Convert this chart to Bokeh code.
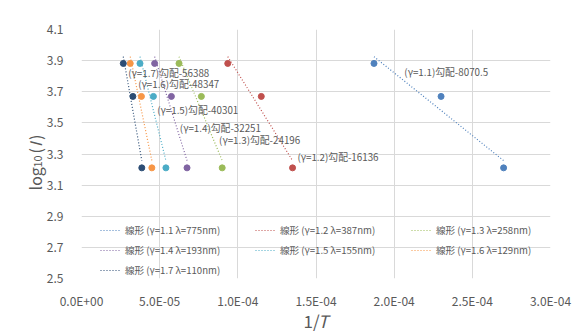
import numpy as np
from bokeh.plotting import figure
from bokeh.models import (Range1d, FixedTicker, CustomJSTickFormatter, Label,
                          Legend, LegendItem, BoxAnnotation)
from bokeh.embed import file_html
from bokeh.resources import INLINE

# ---------------- data ----------------
gammas = ["1.1", "1.2", "1.3", "1.4", "1.5", "1.6", "1.7"]
wavelengths = ["775", "387", "258", "193", "155", "129", "110"]
slope_labels = ["-8070.5", "-16136", "-24196", "-32251", "-40301", "-48347", "-56388"]
log_I = [3.882, 3.670, 3.211]
inv_T_11 = [1.871e-4, 2.300e-4, 2.700e-4]
inv_T_12 = [0.9355e-4, 1.150e-4, 1.350e-4]
inv_T_13 = [0.6237e-4, 0.7667e-4, 0.9000e-4]
inv_T_14 = [0.4678e-4, 0.5750e-4, 0.6750e-4]
inv_T_15 = [0.3742e-4, 0.4600e-4, 0.5400e-4]
inv_T_16 = [0.3118e-4, 0.3833e-4, 0.4500e-4]
inv_T_17 = [0.2673e-4, 0.3286e-4, 0.3857e-4]
x_ticks = [0.0, 5e-5, 1e-4, 1.5e-4, 2e-4, 2.5e-4, 3e-4]
y_ticks = [2.5, 2.7, 2.9, 3.1, 3.3, 3.5, 3.7, 3.9, 4.1]

# label anchor positions (data coords, left-middle)
label_x = [2.065e-4, 1.381e-4, 0.880e-4, 0.629e-4, 0.484e-4, 0.3625e-4, 0.2986e-4]
label_y = [3.824, 3.278, 3.387, 3.466, 3.584, 3.751, 3.819]

series_x = [inv_T_11, inv_T_12, inv_T_13, inv_T_14, inv_T_15, inv_T_16, inv_T_17]
colors = ["#4F81BD", "#C0504D", "#9BBB59", "#8064A2", "#4BACC6", "#F79646", "#2C4D75"]

FONT = "Noto Sans CJK JP"
TXT = "#595959"

p = figure(output_backend="svg", toolbar_location=None,
           frame_width=469, frame_height=249,
           min_border_left=81, min_border_right=29,
           min_border_top=29, min_border_bottom=58,
           x_range=Range1d(0, 3e-4), y_range=Range1d(2.5, 4.1))
p.outline_line_color = None
p.background_fill_color = "white"
p.border_fill_color = "white"

for ax in (p.xaxis[0], p.yaxis[0]):
    ax.axis_line_color = None
    ax.major_tick_line_color = None
    ax.minor_tick_line_color = None
    ax.major_label_text_font = FONT
    ax.major_label_text_font_size = "12px"
    ax.major_label_text_color = TXT

p.xaxis.ticker = FixedTicker(ticks=x_ticks)
p.yaxis.ticker = FixedTicker(ticks=y_ticks)
p.xaxis.major_label_standoff = 7
p.yaxis.major_label_standoff = 12
p.xaxis.formatter = CustomJSTickFormatter(code="""
var s = tick.toExponential(1).split('e');
var e = parseInt(s[1]);
var a = Math.abs(e);
return s[0] + 'E' + (e < 0 ? '-' : '+') + (a < 10 ? '0' : '') + a;
""")
p.yaxis.formatter = CustomJSTickFormatter(code="return tick.toFixed(1);")

p.xgrid.grid_line_color = "#d9d9d9"
p.ygrid.grid_line_color = "#d9d9d9"
p.xgrid.ticker = FixedTicker(ticks=x_ticks)
p.ygrid.ticker = FixedTicker(ticks=y_ticks)

trend_renderers = []
for xs, c in zip(series_x, colors):
    k, b = np.polyfit(xs, log_I, 1)
    tx = [min(xs), max(xs)]
    ty = [k * v + b for v in tx]
    r = p.line(tx, ty, line_color=c, line_width=1.2, line_dash="1 2")
    trend_renderers.append(r)
    p.scatter(xs, log_I, size=6, fill_color=c, line_color=c)

for g, s, lx, ly in zip(gammas, slope_labels, label_x, label_y):
    p.add_layout(Label(x=lx, y=ly, text=f"(γ={g})勾配{s}", text_font=FONT,
                       text_font_size="9.8px", text_color=TXT,
                       text_align="left", text_baseline="middle"))

# legends: three columns
cols = [[0, 3, 6], [1, 4], [2, 5]]
col_x = [19, 174, 330]
for idx, cx in zip(cols, col_x):
    items = [LegendItem(label=f"線形 (γ={gammas[i]} λ={wavelengths[i]}nm)",
                        renderers=[trend_renderers[i]]) for i in idx]
    bottom = 18 if len(idx) == 2 else -2
    lg = Legend(items=items, location=(cx, bottom), orientation="vertical",
                padding=0, margin=0, spacing=0, glyph_width=20, glyph_height=20,
                label_height=20, label_standoff=5, background_fill_alpha=0,
                border_line_color=None, label_text_font=FONT,
                label_text_font_size="9.6px", label_text_color=TXT)
    p.add_layout(lg, "center")

# chart-area border (hosted in a side panel so it is not clipped to the frame)
p.add_layout(BoxAnnotation(left=-4.414e-5, right=3.1727e-4, top=4.2478, bottom=2.1337,
                           fill_color=None, fill_alpha=0, line_color="#d9d9d9",
                           line_width=1, level="overlay"), "below")

# axis titles built from pieces; hosted in a side panel so they are not
# clipped to the plot frame (positions given in the plot's data space)
def title_piece(text, x, y, size, angle=0.0, italic=False, baseline="bottom"):
    p.add_layout(Label(x=x, y=y, text=text, angle=angle, text_font=FONT,
                       text_font_size=size, text_color=TXT,
                       text_font_style="italic" if italic else "normal",
                       text_align="left", text_baseline=baseline), "below")

title_piece("1/", 1.420e-4, 2.153, "17px")
title_piece("T", 1.512e-4, 2.153, "17px", italic=True)
ang = np.pi / 2
title_piece("log", -3.0e-5, 3.066, "16px", ang, baseline="alphabetic")
title_piece("10", -2.81e-5, 3.213, "11px", ang, baseline="alphabetic")
title_piece("(", -3.0e-5, 3.303, "16px", ang, baseline="alphabetic")
title_piece("I", -3.0e-5, 3.345, "16px", ang, italic=True, baseline="alphabetic")
title_piece(")", -3.0e-5, 3.390, "16px", ang, baseline="alphabetic")

open("out.html", "w").write(file_html(p, INLINE))
